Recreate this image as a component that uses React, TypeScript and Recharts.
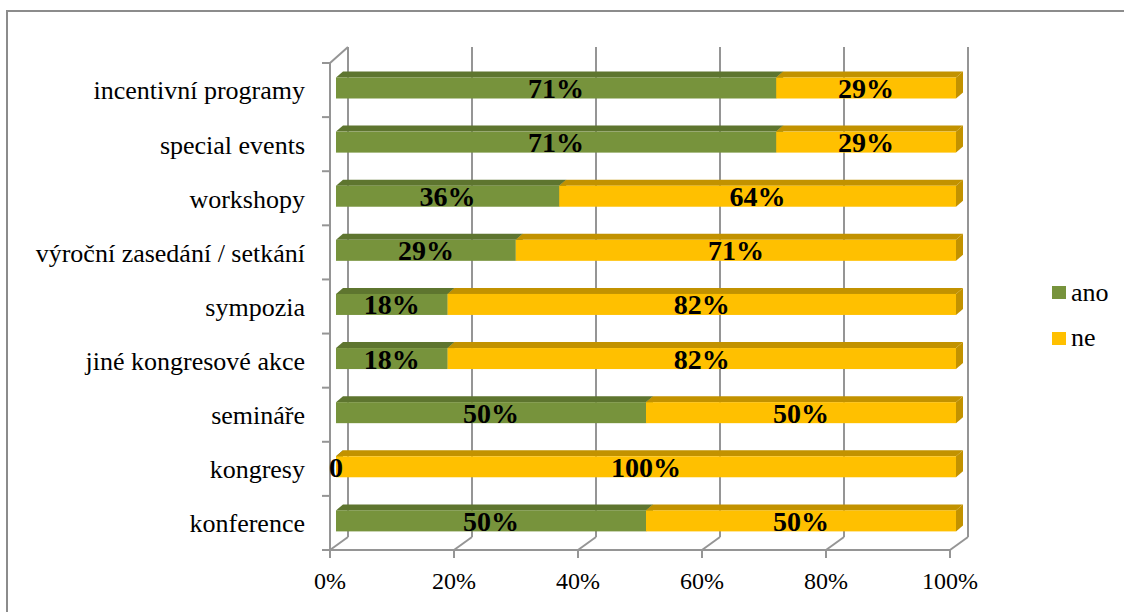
import React from 'react';
import { BarChart, Bar, XAxis, YAxis, LabelList } from 'recharts';

const categories = [
  'incentivní programy',
  'special events',
  'workshopy',
  'výroční zasedání / setkání',
  'sympozia',
  'jiné kongresové akce',
  'semináře',
  'kongresy',
  'konference',
];
const anoValues = [71, 71, 36, 29, 18, 18, 50, 0, 50];
const neValues = [29, 29, 64, 71, 82, 82, 50, 100, 50];
const xTicks = [0, 20, 40, 60, 80, 100];
const seriesKeys = ['ano', 'ne'];
const seriesColors = ['#77933C', '#FFC000'];
const seriesShade = ['#5E752F', '#C29200'];

const data = categories.map((c, i) => ({ category: c, ano: anoValues[i], ne: neValues[i] }));

const W = 1124;
const H = 612;
const FONT = '"Liberation Serif", "Times New Roman", serif';
const GRID = '#959595';
const PLOT = { left: 330, right: 950, top: 63, bottom: 550 };
const BACK = { dx: 18, top: 47, bottom: 537 };
const BAR = { dx: 6, dy: -2.5, ddx: 7, ddy: -6 };

const xPos = (v: number) => PLOT.left + (v / 100) * (PLOT.right - PLOT.left);

const Bar3D = (props: any) => {
  const { x, y, width, height, fill, shade } = props;
  if (x == null || y == null) return null;
  const fx = x + BAR.dx;
  const fy = y + BAR.dy;
  const w = Math.max(0, width);
  const h = height;
  const top = `${fx},${fy} ${fx + w},${fy} ${fx + w + BAR.ddx},${fy + BAR.ddy} ${fx + BAR.ddx},${fy + BAR.ddy}`;
  const side = `${fx + w},${fy} ${fx + w + BAR.ddx},${fy + BAR.ddy} ${fx + w + BAR.ddx},${fy + h + BAR.ddy} ${fx + w},${fy + h}`;
  return (
    <g>
      <polygon points={side} fill={shade} />
      <polygon points={top} fill={shade} />
      <rect x={fx} y={fy} width={w} height={h} fill={fill} />
    </g>
  );
};

const DataLabel = (props: any) => {
  const { x, y, width, height, value } = props;
  if (x == null) return null;
  const cx = x + width / 2 + BAR.dx;
  const cy = y + height / 2 + BAR.dy;
  return (
    <text
      x={cx}
      y={cy + 10}
      textAnchor="middle"
      fontFamily={FONT}
      fontWeight="bold"
      fontSize={28}
      fill="#000"
    >
      {value === 0 ? '0' : `${value}%`}
    </text>
  );
};

const YTick = (props: any) => {
  const { y, payload } = props;
  return (
    <text x={305} y={y} dy="0.36em" textAnchor="end" fontFamily={FONT} fontSize={26} fill="#000">
      {payload.value}
    </text>
  );
};

const Frame = () => {
  const n = categories.length;
  const band = (PLOT.bottom - PLOT.top) / n;
  return (
    <svg width={W} height={H} style={{ position: 'absolute', left: 0, top: 0 }}>
      <rect x={7} y={11} width={W + 20} height={H + 20} fill="#fff" stroke="#8C8C8C" strokeWidth={2} />
      {xTicks.map((t) => {
        const x = xPos(t);
        return (
          <g key={t}>
            <line x1={x + BACK.dx} y1={BACK.top} x2={x + BACK.dx} y2={BACK.bottom} stroke={GRID} strokeWidth={2} />
            <line x1={x} y1={PLOT.bottom} x2={x + BACK.dx} y2={BACK.bottom} stroke={GRID} strokeWidth={2} />
          </g>
        );
      })}
      <line x1={PLOT.left} y1={PLOT.top} x2={PLOT.left + BACK.dx} y2={BACK.top} stroke={GRID} strokeWidth={2} />
      {Array.from({ length: n + 1 }).map((_, k) => {
        const y = PLOT.top + k * band;
        return <line key={k} x1={322} y1={y} x2={PLOT.left} y2={y} stroke={GRID} strokeWidth={2} />;
      })}
      {seriesKeys.map((k, i) => (
        <g key={k}>
          <rect x={1052} y={286 + i * 46} width={14} height={13} fill={seriesColors[i]} />
          <text x={1071} y={301 + i * 45} fontFamily={FONT} fontSize={26} fill="#000">
            {k}
          </text>
        </g>
      ))}
    </svg>
  );
};

export default function App() {
  return (
    <div style={{ position: 'absolute', left: 0, top: 0, width: W, height: H, background: '#fff' }}>
      <Frame />
      <div style={{ position: 'absolute', left: 0, top: 0 }}>
        <BarChart
          width={W}
          height={H}
          data={data}
          layout="vertical"
          margin={{ top: PLOT.top, right: W - PLOT.right, bottom: 0, left: 0 }}
          barSize={21}
        >
          <XAxis
            type="number"
            domain={[0, 100]}
            ticks={xTicks}
            interval={0}
            tickFormatter={(v: number) => `${v}%`}
            height={H - PLOT.bottom}
            axisLine={{ stroke: GRID, strokeWidth: 2 }}
            tickLine={{ stroke: GRID, strokeWidth: 2 }}
            tickSize={8}
            tickMargin={14}
            tick={{ fill: '#000', fontSize: 24, fontFamily: FONT }}
          />
          <YAxis
            type="category"
            dataKey="category"
            width={PLOT.left}
            axisLine={{ stroke: GRID, strokeWidth: 2 }}
            tickLine={false}
            tick={<YTick />}
            interval={0}
          />
          {seriesKeys.map((k, i) => (
            <Bar
              key={k}
              dataKey={k}
              stackId="s"
              fill={seriesColors[i]}
              isAnimationActive={false}
              shape={(p: any) => <Bar3D {...p} shade={seriesShade[i]} />}
            >
              <LabelList dataKey={k} content={<DataLabel />} />
            </Bar>
          ))}
        </BarChart>
      </div>
    </div>
  );
}
